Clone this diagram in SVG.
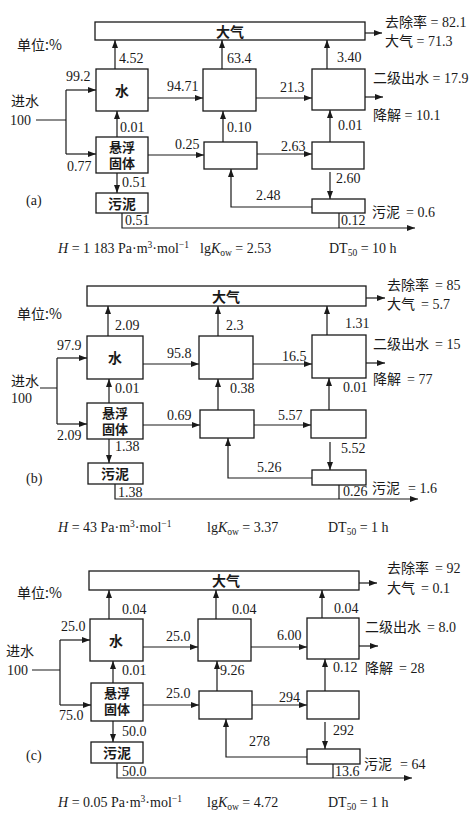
<svg xmlns="http://www.w3.org/2000/svg" width="473" height="827" viewBox="0 0 473 827">
<style>
.bx{fill:#fff;stroke:#1a1a1a;stroke-width:1.3}
.ln{fill:none;stroke:#1a1a1a;stroke-width:1.2}
.ar{fill:none;stroke:#1a1a1a;stroke-width:1.2;marker-end:url(#ah)}
text{font-family:"Liberation Serif","Noto Sans CJK SC",serif;font-size:14px;fill:#1a1a1a}
.cn{font-family:"Noto Sans CJK SC",sans-serif;font-size:14px}
.bl{font-family:"Noto Sans CJK SC",sans-serif;font-size:14px;font-weight:bold;text-anchor:middle}
.bs{font-family:"Liberation Serif","Noto Sans CJK SC",sans-serif;font-size:13px;font-weight:bold;text-anchor:middle}
</style>
<defs>
<marker id="ah" markerUnits="userSpaceOnUse" markerWidth="8" markerHeight="6" refX="8" refY="3" orient="auto">
<path d="M0,0 L8,3 L0,6 z" fill="#1a1a1a"/>
</marker>
</defs>

<!-- ===== Panel (a) ===== -->
<g id="a-atm"><rect class="bx" x="95" y="22" width="270" height="18"/><text class="bl" x="230" y="36.5">大气</text></g>
<g id="a-water"><rect class="bx" x="96" y="69" width="52" height="42"/><text class="bl" x="122" y="95.5">水</text></g>
<g id="a-ss"><rect class="bx" x="96" y="137" width="52" height="36"/><text class="bs" x="122" y="152">悬浮</text><text class="bs" x="122" y="168">固体</text></g>
<g id="a-sludge"><rect class="bx" x="96" y="193" width="52" height="20"/><text class="bl" x="122" y="208.5">污泥</text></g>
<g id="a-mid-up"><rect class="bx" x="203" y="69" width="53" height="42"/></g>
<g id="a-mid-low"><rect class="bx" x="204" y="142" width="53" height="27"/></g>
<g id="a-right-up"><rect class="bx" x="312" y="69" width="53" height="41"/></g>
<g id="a-right-low"><rect class="bx" x="312" y="142" width="52" height="27"/></g>
<g id="a-small-sludge"><rect class="bx" x="312" y="199" width="53" height="14"/></g>

<g id="a-connectors">
<path class="ln" d="M36,120 H66 M66,90 V154"/>
<path class="ar" d="M66,90 H96"/>
<path class="ar" d="M66,154 H96"/>
<path class="ar" d="M115,69 V40"/>
<path class="ar" d="M117,137 V111"/>
<path class="ar" d="M117,173 V193"/>
<path class="ar" d="M148,98 H203"/>
<path class="ar" d="M148,155 H204"/>
<path class="ar" d="M223,142 V111"/>
<path class="ar" d="M222,69 V40"/>
<path class="ar" d="M256,98 H312"/>
<path class="ar" d="M257,154 H312"/>
<path class="ar" d="M330,142 V110"/>
<path class="ar" d="M327,69 V40"/>
<path class="ar" d="M365,97 H383"/>
<path class="ar" d="M365,33 H382"/>
<path class="ar" d="M330,172 V199"/>
<path class="ar" d="M312,207 H231 V169"/>
<path class="ar" d="M122,213 V228 H415"/>
<path class="ln" d="M339,213 V228"/>
</g>

<g id="a-labels">
<text class="cn" x="17" y="50">单位:%</text>
<text class="cn" x="11" y="105.5">进水</text>
<text x="10" y="125">100</text>
<text x="119" y="63">4.52</text>
<text x="66" y="81">99.2</text>
<text x="120" y="132">0.01</text>
<text x="167" y="91">94.71</text>
<text x="227" y="63">63.4</text>
<text x="227" y="132">0.10</text>
<text x="280" y="92">21.3</text>
<text x="337" y="62">3.40</text>
<text x="338" y="130">0.01</text>
<text x="175" y="149">0.25</text>
<text x="67" y="171">0.77</text>
<text x="122" y="187">0.51</text>
<text x="125" y="225">0.51</text>
<text x="281" y="151">2.63</text>
<text x="336" y="183">2.60</text>
<text x="256" y="200">2.48</text>
<text x="341" y="225">0.12</text>
<text x="26" y="205">(a)</text>
<text x="385" y="26.5">去除率 = 82.1</text>
<text x="385" y="45.5">大气 = 71.3</text>
<text x="373" y="82.5">二级出水 = 17.9</text>
<text x="373" y="119.5">降解 = 10.1</text>
<text x="372" y="216.5">污泥<tspan dx="6">= 0.6</tspan></text>
<text x="58" y="253"><tspan font-style="italic">H</tspan> = 1 183 Pa·m<tspan font-size="9.5" dy="-5">3</tspan><tspan dy="5">·mol</tspan><tspan font-size="9.5" dy="-5">−1</tspan></text>
<text x="200" y="253">lg<tspan font-style="italic">K</tspan><tspan font-size="9.5" dy="3">ow</tspan><tspan dy="-3"> = 2.53</tspan></text>
<text x="329" y="253">DT<tspan font-size="9.5" dy="3">50</tspan><tspan dy="-3"> = 10 h</tspan></text>
</g>

<!-- ===== Panel (b) ===== -->
<g id="b-atm"><rect class="bx" x="87" y="286" width="279" height="20"/><text class="bl" x="226" y="301.5">大气</text></g>
<g id="b-water"><rect class="bx" x="87" y="336" width="56" height="43"/><text class="bl" x="115" y="363">水</text></g>
<g id="b-ss"><rect class="bx" x="87" y="403" width="56" height="36"/><text class="bs" x="115" y="418">悬浮</text><text class="bs" x="115" y="434">固体</text></g>
<g id="b-sludge"><rect class="bx" x="88" y="463" width="55" height="21"/><text class="bl" x="115" y="479">污泥</text></g>
<g id="b-mid-up"><rect class="bx" x="199" y="336" width="54" height="43"/></g>
<g id="b-mid-low"><rect class="bx" x="200" y="410" width="54" height="28"/></g>
<g id="b-right-up"><rect class="bx" x="312" y="335" width="54" height="43"/></g>
<g id="b-right-low"><rect class="bx" x="311" y="410" width="55" height="28"/></g>
<g id="b-small-sludge"><rect class="bx" x="312" y="470" width="54" height="15"/></g>

<g id="b-connectors">
<path class="ln" d="M40,388 H57 M57,358 V424"/>
<path class="ar" d="M57,358 H87"/>
<path class="ar" d="M57,424 H87"/>
<path class="ar" d="M108,336 V306"/>
<path class="ar" d="M109,403 V379"/>
<path class="ar" d="M109,439 V463"/>
<path class="ar" d="M143,364 H199"/>
<path class="ar" d="M143,425 H200"/>
<path class="ar" d="M218,410 V379"/>
<path class="ar" d="M218,336 V306"/>
<path class="ar" d="M253,364 H312"/>
<path class="ar" d="M254,425 H311"/>
<path class="ar" d="M329,410 V378"/>
<path class="ar" d="M327,335 V306"/>
<path class="ar" d="M366,363 H385"/>
<path class="ar" d="M366,298 H385"/>
<path class="ar" d="M330,442 V470"/>
<path class="ar" d="M312,478 H228 V438"/>
<path class="ar" d="M115,484 V499 H418"/>
<path class="ln" d="M339,485 V499"/>
</g>

<g id="b-labels">
<text class="cn" x="17" y="319">单位:%</text>
<text class="cn" x="11" y="385.5">进水</text>
<text x="11" y="403">100</text>
<text x="115" y="330">2.09</text>
<text x="57" y="350">97.9</text>
<text x="167" y="358">95.8</text>
<text x="226" y="330">2.3</text>
<text x="115" y="393">0.01</text>
<text x="230" y="393">0.38</text>
<text x="282" y="361">16.5</text>
<text x="345" y="328">1.31</text>
<text x="343" y="392">0.01</text>
<text x="57" y="440">2.09</text>
<text x="167" y="420">0.69</text>
<text x="278" y="420">5.57</text>
<text x="115" y="451">1.38</text>
<text x="341" y="453">5.52</text>
<text x="257" y="472">5.26</text>
<text x="118" y="497">1.38</text>
<text x="343" y="496">0.26</text>
<text x="26" y="483">(b)</text>
<text x="387" y="289.5">去除率<tspan dx="6">= 85</tspan></text>
<text x="387" y="308.5">大气<tspan dx="6">= 5.7</tspan></text>
<text x="373" y="348.5">二级出水<tspan dx="6">= 15</tspan></text>
<text x="373" y="383.5">降解<tspan dx="6">= 77</tspan></text>
<text x="372" y="492.5">污泥<tspan dx="8">= 1.6</tspan></text>
<text x="58" y="532"><tspan font-style="italic">H</tspan> = 43 Pa·m<tspan font-size="9.5" dy="-5">3</tspan><tspan dy="5">·mol</tspan><tspan font-size="9.5" dy="-5">−1</tspan></text>
<text x="207" y="532">lg<tspan font-style="italic">K</tspan><tspan font-size="9.5" dy="3">ow</tspan><tspan dy="-3"> = 3.37</tspan></text>
<text x="328" y="532">DT<tspan font-size="9.5" dy="3">50</tspan><tspan dy="-3"> = 1 h</tspan></text>
</g>

<!-- ===== Panel (c) ===== -->
<g id="c-atm"><rect class="bx" x="89" y="571" width="270" height="19"/><text class="bl" x="226" y="586">大气</text></g>
<g id="c-water"><rect class="bx" x="90" y="619" width="53" height="42"/><text class="bl" x="116" y="645.5">水</text></g>
<g id="c-ss"><rect class="bx" x="91" y="683" width="52" height="38"/><text class="bs" x="117" y="698">悬浮</text><text class="bs" x="117" y="714">固体</text></g>
<g id="c-sludge"><rect class="bx" x="91" y="742" width="52" height="21"/><text class="bl" x="117" y="758">污泥</text></g>
<g id="c-mid-up"><rect class="bx" x="198" y="619" width="53" height="42"/></g>
<g id="c-mid-low"><rect class="bx" x="199" y="691" width="53" height="28"/></g>
<g id="c-right-up"><rect class="bx" x="307" y="618" width="52" height="41"/></g>
<g id="c-right-low"><rect class="bx" x="307" y="691" width="52" height="28"/></g>
<g id="c-small-sludge"><rect class="bx" x="307" y="749" width="53" height="15"/></g>

<g id="c-connectors">
<path class="ln" d="M32,670 H60 M60,640 V705"/>
<path class="ar" d="M60,640 H90"/>
<path class="ar" d="M60,705 H91"/>
<path class="ar" d="M109,619 V590"/>
<path class="ar" d="M113,683 V661"/>
<path class="ar" d="M113,721 V742"/>
<path class="ar" d="M143,647 H198"/>
<path class="ar" d="M143,705 H199"/>
<path class="ar" d="M217,691 V661"/>
<path class="ar" d="M216,619 V590"/>
<path class="ar" d="M251,647 H307"/>
<path class="ar" d="M252,705 H307"/>
<path class="ar" d="M325,691 V659"/>
<path class="ar" d="M322,618 V590"/>
<path class="ar" d="M359,646 H378"/>
<path class="ar" d="M359,583 H377"/>
<path class="ar" d="M325,722 V749"/>
<path class="ar" d="M307,757 H226 V719"/>
<path class="ar" d="M117,763 V778 H412"/>
<path class="ln" d="M333,764 V778"/>
</g>

<g id="c-labels">
<text class="cn" x="17" y="598">单位:%</text>
<text class="cn" x="6" y="655.5">进水</text>
<text x="7" y="675">100</text>
<text x="122" y="614">0.04</text>
<text x="61" y="631">25.0</text>
<text x="166" y="641">25.0</text>
<text x="232" y="614">0.04</text>
<text x="277" y="640">6.00</text>
<text x="334" y="613">0.04</text>
<text x="122" y="675">0.01</text>
<text x="220" y="675">9.26</text>
<text x="333" y="672">0.12</text>
<text x="166" y="698">25.0</text>
<text x="279" y="702">294</text>
<text x="59" y="720">75.0</text>
<text x="122" y="736">50.0</text>
<text x="333" y="735">292</text>
<text x="249" y="746">278</text>
<text x="122" y="776">50.0</text>
<text x="335" y="776">13.6</text>
<text x="26" y="760">(c)</text>
<text x="387" y="572.5">去除率<tspan dx="6">= 92</tspan></text>
<text x="387" y="592.5">大气<tspan dx="6">= 0.1</tspan></text>
<text x="365" y="631.5">二级出水<tspan dx="6">= 8.0</tspan></text>
<text x="365" y="672.5">降解<tspan dx="6">= 28</tspan></text>
<text x="364" y="768.5">污泥<tspan dx="8">= 64</tspan></text>
<text x="58" y="807"><tspan font-style="italic">H</tspan> = 0.05 Pa·m<tspan font-size="9.5" dy="-5">3</tspan><tspan dy="5">·mol</tspan><tspan font-size="9.5" dy="-5">−1</tspan></text>
<text x="207" y="807">lg<tspan font-style="italic">K</tspan><tspan font-size="9.5" dy="3">ow</tspan><tspan dy="-3"> = 4.72</tspan></text>
<text x="328" y="807">DT<tspan font-size="9.5" dy="3">50</tspan><tspan dy="-3"> = 1 h</tspan></text>
</g>
</svg>
